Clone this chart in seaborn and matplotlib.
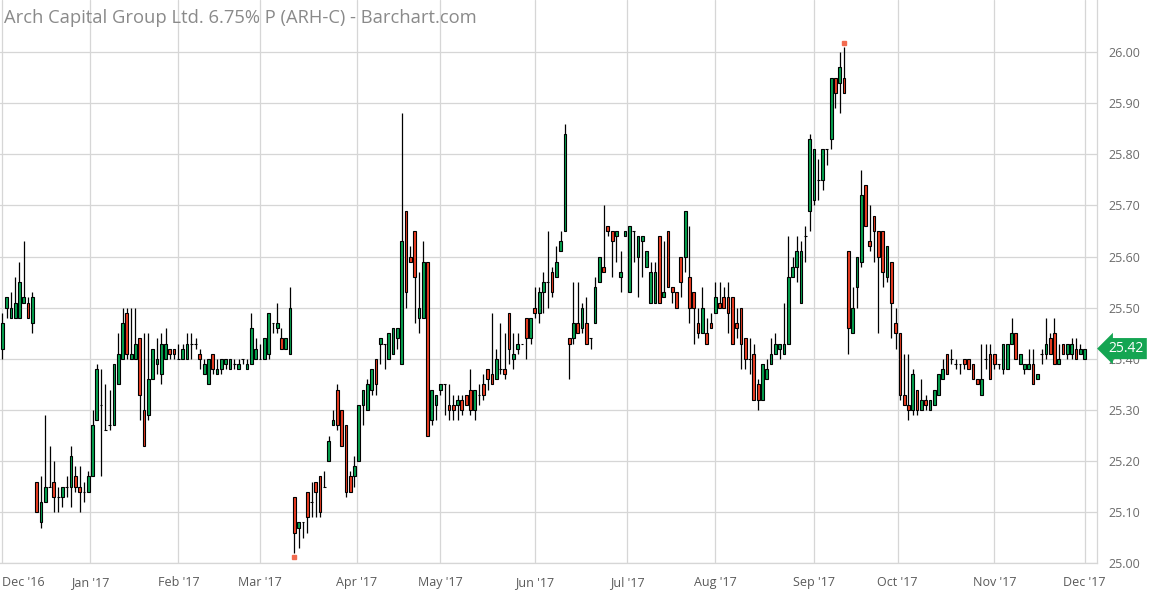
import numpy as np
import pandas as pd
import seaborn as sns
import matplotlib
matplotlib.use("Agg")
import matplotlib.pyplot as plt
import matplotlib.transforms as mtransforms

# daily OHLC, Dec 1 2016 .. Dec 1 2017 (trading days)
opens = [
    # Dec '16
    25.42, 25.50, 25.48, 25.48, 25.48, 25.51, 25.51, 25.47, 25.16, 25.08, 25.12,
    25.15, 25.16, 25.13, 25.13, 25.15, 25.15, 25.17, 25.15, 25.14, 25.14,
    # Jan '17
    25.17, 25.28, 25.31, 25.26, 25.27, 25.27, 25.35, 25.40, 25.49, 25.40,
    25.40, 25.44, 25.30, 25.29, 25.36, 25.39, 25.37, 25.40, 25.42, 25.42,
    # Feb
    25.40, 25.40, 25.40, 25.43, 25.43, 25.41, 25.37, 25.35, 25.41, 25.37,
    25.38, 25.39, 25.38, 25.39, 25.38, 25.40, 25.38, 25.39, 25.40,
    # Mar
    25.40, 25.40, 25.41, 25.47, 25.46, 25.44, 25.42, 25.41, 25.13, 25.07, 25.08,
    25.14, 25.12, 25.16, 25.17, 25.15, 25.20, 25.27, 25.34, 25.30, 25.27, 25.17, 25.17,
    # Apr
    25.20, 25.31, 25.30, 25.34, 25.40, 25.43, 25.43, 25.40, 25.41, 25.44,
    25.39, 25.69, 25.60, 25.65, 25.48, 25.48, 25.59, 25.28, 25.31,
    # May
    25.34, 25.35, 25.31, 25.31, 25.31, 25.32, 25.33, 25.34, 25.30, 25.33, 25.35,
    25.38, 25.37, 25.36, 25.38, 25.38, 25.49, 25.40, 25.42, 25.43, 25.48, 25.44,
    # Jun
    25.50, 25.49, 25.53, 25.55, 25.57, 25.56, 25.61, 25.65, 25.44, 25.44, 25.47,
    25.46, 25.47, 25.44, 25.47, 25.55, 25.58, 25.66, 25.65, 25.64, 25.56, 25.64,
    # Jul
    25.53, 25.65, 25.60, 25.63, 25.58, 25.51, 25.51, 25.64, 25.52, 25.65,
    25.54, 25.53, 25.60, 25.60, 25.56, 25.53, 25.47, 25.45, 25.45, 25.47,
    # Aug
    25.49, 25.51, 25.52, 25.52, 25.52, 25.47, 25.50, 25.44, 25.40, 25.41, 25.35, 25.32,
    25.36, 25.39, 25.41, 25.42, 25.41, 25.43, 25.56, 25.58, 25.51, 25.64, 25.69,
    # Sep
    25.71, 25.75, 25.75, 25.81, 25.83, 25.95, 25.94, 25.95, 25.61, 25.45,
    25.54, 25.59, 25.74, 25.63, 25.68, 25.65, 25.65, 25.56, 25.59, 25.47,
    # Oct
    25.45, 25.33, 25.31, 25.30, 25.34, 25.30, 25.32, 25.30, 25.31, 25.33, 25.36,
    25.41, 25.40, 25.39, 25.39, 25.40, 25.40, 25.39, 25.36, 25.33, 25.40, 25.41,
    # Nov
    25.41, 25.39, 25.38, 25.38, 25.43, 25.45, 25.39, 25.38, 25.38, 25.39, 25.36,
    25.41, 25.41, 25.44, 25.45, 25.39, 25.43, 25.41, 25.41, 25.42, 25.41,
    # Dec '17
    25.40,
]
highs = [
    25.49, 25.52, 25.53, 25.56, 25.59, 25.63, 25.52, 25.53, 25.16, 25.17, 25.29,
    25.23, 25.20, 25.15, 25.15, 25.17, 25.23, 25.19, 25.19, 25.16, 25.18,
    25.30, 25.39, 25.38, 25.35, 25.34, 25.39, 25.45, 25.50, 25.50, 25.50,
    25.50, 25.44, 25.45, 25.45, 25.42, 25.44, 25.45, 25.46, 25.42, 25.42,
    25.43, 25.43, 25.45, 25.45, 25.44, 25.42, 25.40, 25.40, 25.41, 25.40,
    25.40, 25.40, 25.40, 25.40, 25.40, 25.40, 25.40, 25.49, 25.44,
    25.43, 25.44, 25.49, 25.47, 25.51, 25.46, 25.44, 25.54, 25.13, 25.08, 25.08,
    25.14, 25.16, 25.16, 25.17, 25.18, 25.25, 25.30, 25.35, 25.30, 25.27, 25.18, 25.21,
    25.31, 25.34, 25.36, 25.38, 25.40, 25.44, 25.43, 25.45, 25.46, 25.46,
    25.88, 25.69, 25.62, 25.65, 25.57, 25.63, 25.59, 25.34, 25.33,
    25.35, 25.35, 25.35, 25.33, 25.33, 25.33, 25.33, 25.38, 25.34, 25.35, 25.37,
    25.38, 25.49, 25.42, 25.47, 25.45, 25.49, 25.45, 25.45, 25.43, 25.48, 25.48,
    25.54, 25.54, 25.57, 25.65, 25.58, 25.62, 25.65, 25.86, 25.44, 25.55, 25.55,
    25.51, 25.52, 25.44, 25.56, 25.60, 25.70, 25.66, 25.65, 25.65, 25.61, 25.65,
    25.66, 25.65, 25.64, 25.64, 25.61, 25.59, 25.59, 25.64, 25.63, 25.65,
    25.54, 25.53, 25.60, 25.69, 25.66, 25.53, 25.50, 25.54, 25.48, 25.49,
    25.55, 25.55, 25.54, 25.55, 25.52, 25.50, 25.50, 25.44, 25.44, 25.43, 25.36, 25.39,
    25.40, 25.44, 25.45, 25.43, 25.51, 25.64, 25.60, 25.64, 25.63, 25.66, 25.84,
    25.81, 25.79, 25.81, 25.81, 25.95, 25.95, 26.00, 26.01, 25.61, 25.54,
    25.60, 25.77, 25.74, 25.70, 25.68, 25.65, 25.65, 25.62, 25.59, 25.50,
    25.45, 25.41, 25.41, 25.38, 25.34, 25.36, 25.33, 25.32, 25.34, 25.37, 25.40,
    25.41, 25.42, 25.40, 25.39, 25.40, 25.40, 25.39, 25.36, 25.43, 25.43, 25.43,
    25.41, 25.39, 25.43, 25.43, 25.48, 25.45, 25.41, 25.39, 25.42, 25.42, 25.37,
    25.42, 25.48, 25.45, 25.48, 25.43, 25.43, 25.43, 25.44, 25.44, 25.43,
    25.42,
]
lows = [
    25.40, 25.48, 25.48, 25.48, 25.48, 25.51, 25.48, 25.45, 25.10, 25.07, 25.12,
    25.15, 25.10, 25.10, 25.11, 25.13, 25.11, 25.14, 25.10, 25.12, 25.14,
    25.17, 25.28, 25.17, 25.26, 25.26, 25.27, 25.35, 25.40, 25.40, 25.40,
    25.40, 25.28, 25.23, 25.28, 25.36, 25.37, 25.35, 25.40, 25.40, 25.40,
    25.40, 25.40, 25.40, 25.40, 25.42, 25.38, 25.37, 25.35, 25.37, 25.37,
    25.37, 25.38, 25.38, 25.38, 25.38, 25.39, 25.38, 25.39, 25.40,
    25.40, 25.40, 25.40, 25.45, 25.45, 25.42, 25.42, 25.41, 25.02, 25.03, 25.05,
    25.06, 25.09, 25.09, 25.09, 25.15, 25.20, 25.27, 25.26, 25.23, 25.13, 25.14, 25.15,
    25.20, 25.27, 25.30, 25.33, 25.33, 25.39, 25.38, 25.40, 25.41, 25.42,
    25.39, 25.50, 25.59, 25.47, 25.45, 25.48, 25.25, 25.27, 25.28,
    25.33, 25.29, 25.28, 25.28, 25.28, 25.29, 25.31, 25.29, 25.28, 25.31, 25.32,
    25.34, 25.35, 25.36, 25.37, 25.36, 25.39, 25.38, 25.41, 25.43, 25.40, 25.43,
    25.48, 25.47, 25.49, 25.50, 25.52, 25.56, 25.61, 25.65, 25.36, 25.43, 25.45,
    25.45, 25.43, 25.42, 25.47, 25.55, 25.57, 25.64, 25.56, 25.59, 25.53, 25.64,
    25.53, 25.59, 25.52, 25.56, 25.58, 25.51, 25.51, 25.51, 25.52, 25.54,
    25.51, 25.50, 25.52, 25.57, 25.47, 25.43, 25.44, 25.45, 25.43, 25.46,
    25.49, 25.50, 25.50, 25.45, 25.43, 25.44, 25.38, 25.38, 25.37, 25.32, 25.30, 25.32,
    25.36, 25.39, 25.41, 25.40, 25.41, 25.43, 25.56, 25.55, 25.51, 25.59, 25.65,
    25.70, 25.71, 25.73, 25.78, 25.81, 25.89, 25.88, 25.92, 25.41, 25.45,
    25.50, 25.58, 25.66, 25.61, 25.59, 25.45, 25.54, 25.55, 25.44, 25.42,
    25.32, 25.31, 25.28, 25.29, 25.29, 25.30, 25.30, 25.30, 25.31, 25.33, 25.36,
    25.37, 25.39, 25.38, 25.37, 25.38, 25.38, 25.36, 25.35, 25.33, 25.38, 25.36,
    25.38, 25.38, 25.37, 25.38, 25.43, 25.40, 25.39, 25.37, 25.38, 25.35, 25.36,
    25.39, 25.40, 25.41, 25.39, 25.39, 25.41, 25.40, 25.40, 25.40, 25.41,
    25.40,
]
closes = [
    25.47, 25.52, 25.50, 25.51, 25.55, 25.52, 25.48, 25.52, 25.10, 25.12, 25.15,
    25.15, 25.13, 25.13, 25.15, 25.15, 25.21, 25.15, 25.14, 25.14, 25.17,
    25.27, 25.38, 25.31, 25.26, 25.27, 25.39, 25.41, 25.47, 25.41, 25.41,
    25.43, 25.33, 25.23, 25.36, 25.42, 25.40, 25.43, 25.43, 25.41, 25.41,
    25.40, 25.42, 25.43, 25.43, 25.43, 25.40, 25.39, 25.40, 25.38, 25.38,
    25.40, 25.40, 25.40, 25.39, 25.39, 25.40, 25.39, 25.46, 25.42,
    25.40, 25.44, 25.49, 25.47, 25.47, 25.42, 25.44, 25.50, 25.06, 25.08, 25.08,
    25.09, 25.12, 25.14, 25.10, 25.15, 25.24, 25.28, 25.27, 25.23, 25.14, 25.14, 25.19,
    25.31, 25.34, 25.35, 25.38, 25.35, 25.44, 25.43, 25.45, 25.46, 25.46,
    25.63, 25.53, 25.59, 25.56, 25.50, 25.59, 25.25, 25.34, 25.33,
    25.35, 25.35, 25.30, 25.30, 25.32, 25.30, 25.31, 25.30, 25.34, 25.33, 25.33,
    25.36, 25.35, 25.40, 25.38, 25.37, 25.42, 25.41, 25.43, 25.43, 25.44, 25.48,
    25.49, 25.53, 25.55, 25.55, 25.53, 25.59, 25.63, 25.84, 25.43, 25.47, 25.45,
    25.50, 25.43, 25.44, 25.54, 25.60, 25.57, 25.65, 25.63, 25.65, 25.57, 25.65,
    25.66, 25.65, 25.64, 25.64, 25.61, 25.57, 25.57, 25.51, 25.53, 25.54,
    25.53, 25.50, 25.55, 25.69, 25.50, 25.50, 25.45, 25.50, 25.43, 25.46,
    25.52, 25.50, 25.50, 25.49, 25.43, 25.46, 25.43, 25.40, 25.40, 25.32, 25.32, 25.39,
    25.38, 25.41, 25.43, 25.43, 25.43, 25.56, 25.58, 25.61, 25.61, 25.64, 25.83,
    25.81, 25.75, 25.81, 25.81, 25.95, 25.92, 25.97, 25.92, 25.46, 25.50,
    25.60, 25.72, 25.66, 25.62, 25.65, 25.60, 25.57, 25.62, 25.51, 25.45,
    25.33, 25.31, 25.30, 25.37, 25.30, 25.32, 25.31, 25.32, 25.34, 25.37, 25.38,
    25.37, 25.40, 25.39, 25.39, 25.39, 25.38, 25.36, 25.35, 25.36, 25.40, 25.36,
    25.39, 25.39, 25.43, 25.43, 25.45, 25.40, 25.41, 25.39, 25.39, 25.35, 25.37,
    25.41, 25.43, 25.41, 25.39, 25.40, 25.41, 25.43, 25.43, 25.40, 25.42,
    25.42,
]

holidays = ['2016-12-26', '2017-01-02', '2017-01-16', '2017-02-20', '2017-04-14',
            '2017-05-29', '2017-07-04', '2017-09-04', '2017-11-23']
dates = pd.bdate_range('2016-12-01', '2017-12-01', freq='C', holidays=holidays)

df = pd.DataFrame({'date': dates, 'open': opens, 'high': highs,
                   'low': lows, 'close': closes})
df['x'] = np.arange(len(df))
df['up'] = df['close'] >= df['open']

green = '#05a24f'
red = '#ec3d22'
grid_c = '#d6d6d6'

sns.set_theme(style='white')
plt.rcParams['font.family'] = ['Open Sans', 'DejaVu Sans']

fig = plt.figure(figsize=(11.54, 6.02), dpi=100)
ax = fig.add_axes([0, 1 - 563.3 / 602, 1097 / 1154, 563.3 / 602])

# month gridlines / ticks
ticks, labels = [], []
for m in pd.date_range('2016-12-01', '2017-12-01', freq='MS'):
    pos = dates.searchsorted(m)
    if dates[pos] != m:
        pos -= 0.5
    ticks.append(pos)
    labels.append(m.strftime("%b '%y"))

ax.set_xticks(ticks)
ax.set_xticklabels(labels)
ax.set_yticks(np.round(np.arange(25.0, 26.01, 0.1), 2))
ax.yaxis.set_major_formatter(matplotlib.ticker.FormatStrFormatter('%.2f'))
ax.grid(True, color=grid_c, lw=0.9)
ax.set_axisbelow(True)

# wicks + bodies
ax.vlines(df['x'], df['low'], df['high'], color='black', lw=0.9, zorder=2)
body_bottom = np.minimum(df['open'], df['close'])
body_h = (df['close'] - df['open']).abs()
ax.bar(df['x'], body_h, bottom=body_bottom, width=0.64,
       color=np.where(df['up'], green, red), edgecolor='black', linewidth=0.8, zorder=3)

# high / low markers
hi = df['high'].idxmax()
lo = df['low'].idxmin()
ax.plot([df['x'][hi]], [df['high'][hi] + 0.008], marker='s', ms=2.2, color='#f26b50',
        zorder=4, ls='none')
ax.plot([df['x'][lo]], [df['low'][lo] - 0.008], marker='s', ms=2.2, color='#f26b50',
        zorder=4, ls='none')

ax.set_xlim(-0.54, 254.9)
ax.set_ylim(25.0, 26.102)

ax.yaxis.tick_right()
ax.tick_params(axis='y', length=0, pad=8, labelsize=9, labelcolor='#6b6b6b')
ax.tick_params(axis='x', length=6, width=0.9, color=grid_c, pad=3, labelsize=9,
               labelcolor='#5a5a5a')
lab = ax.get_xticklabels()
lab[0].set_ha('left')
lab[0].set_x(ticks[0])

for s in ['left', 'top']:
    ax.spines[s].set_visible(False)
for s in ['right', 'bottom']:
    ax.spines[s].set_color(grid_c)
    ax.spines[s].set_linewidth(0.9)

ax.text(0.004, 0.968, 'Arch Capital Group Ltd. 6.75% P (ARH-C) - Barchart.com',
        transform=ax.transAxes, ha='left', va='center', fontsize=13.2, color='#8a8a8a')

# last price tag
last = closes[-1]
trans = mtransforms.blended_transform_factory(ax.transAxes, ax.transData)
ax.text(1.0105, last, f'{last:.2f}', transform=trans, ha='left', va='center',
        fontsize=10, color='white',
        bbox=dict(boxstyle='larrow,pad=0.22', fc='#14a552', ec='none'), clip_on=False)

fig.savefig('out.png', dpi=100)
